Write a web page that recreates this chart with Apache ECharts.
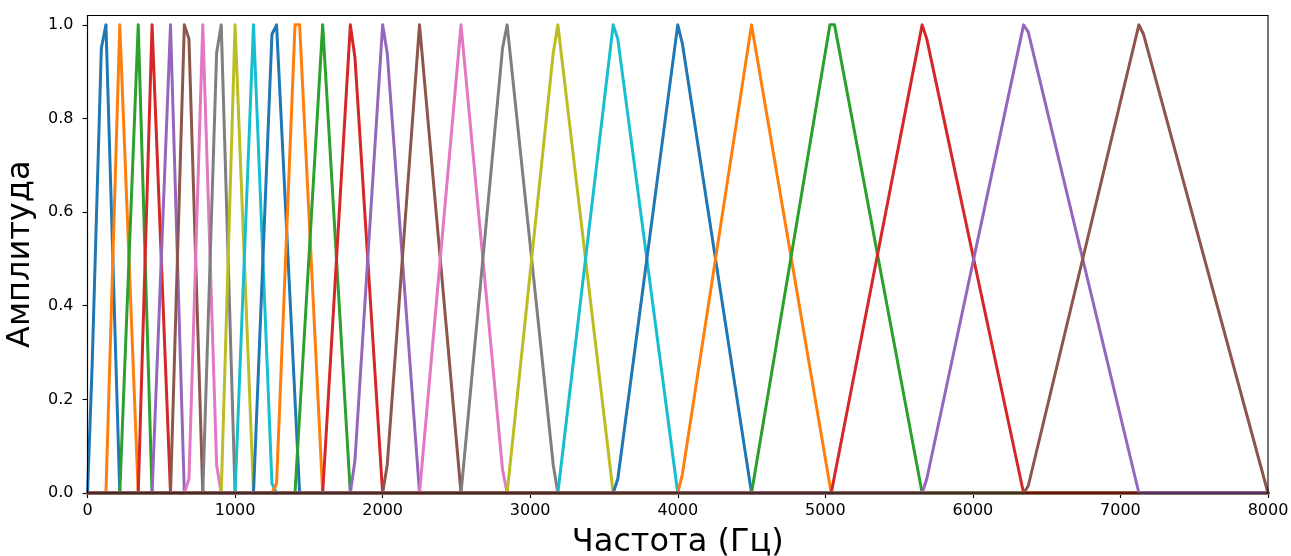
<!DOCTYPE html>
<html>
<head>
<meta charset="utf-8">
<script src="https://cdn.jsdelivr.net/npm/echarts@6/dist/echarts.min.js"></script>
<style>
html,body{margin:0;padding:0;background:#fff;}
#chart{width:1291px;height:556px;}
</style>
</head>
<body>
<div id="chart"></div>
<script>
// ---- data ----
const freqTicks = [0, 1000, 2000, 3000, 4000, 5000, 6000, 7000, 8000];
const ampTicks = [0, 0.2, 0.4, 0.6, 0.8, 1.0];

const filterStartHz = [0, 125, 218.75, 343.75, 437.5, 562.5, 656.25, 781.25, 906.25, 1000, 1125, 1250, 1406.25, 1593.75, 1781.25, 2000, 2250, 2531.25, 2843.75, 3187.5, 3562.5, 4000, 4500, 5040, 5656.25, 6343.75];
const filterPeakHz = [125, 218.75, 343.75, 437.5, 562.5, 656.25, 781.25, 906.25, 1000, 1125, 1281.25, 1406.25, 1593.75, 1781.25, 2000, 2250, 2531.25, 2843.75, 3187.5, 3562.5, 4000, 4500, 5031.25, 5656.25, 6343.75, 7125];
const filterPeakEndHz = [125, 218.75, 343.75, 437.5, 562.5, 656.25, 781.25, 906.25, 1000, 1125, 1281.25, 1437.5, 1593.75, 1781.25, 2000, 2250, 2531.25, 2843.75, 3187.5, 3562.5, 4000, 4500, 5062.5, 5656.25, 6343.75, 7125];
const filterEndHz = [218.75, 343.75, 437.5, 562.5, 656.25, 781.25, 906.25, 1000, 1125, 1281.25, 1437.5, 1593.75, 1781.25, 2000, 2250, 2531.25, 2843.75, 3187.5, 3562.5, 4000, 4500, 5040, 5656.25, 6343.75, 7125, 8000];
// [filter index, frequency Hz, amplitude] : intermediate bends seen on the triangle sides
const shapeKnees = [
  [0, 31.25, 0.27], [0, 93.75, 0.95],
  [5, 687.5, 0.97], [6, 687.5, 0.03],
  [7, 875, 0.94], [6, 875, 0.06],
  [10, 1250, 0.98], [9, 1250, 0.02], [11, 1281.25, 0.02],
  [13, 1812.5, 0.93], [14, 1812.5, 0.07],
  [14, 2031.25, 0.94], [15, 2031.25, 0.06],
  [17, 2812.5, 0.95], [16, 2812.5, 0.05],
  [18, 3156.25, 0.94], [17, 3156.25, 0.06],
  [19, 3593.75, 0.97], [20, 3593.75, 0.03],
  [20, 4031.25, 0.96], [21, 4031.25, 0.04],
  [23, 5687.5, 0.97], [24, 5687.5, 0.03],
  [24, 6375, 0.985], [25, 6375, 0.015],
  [25, 7156.25, 0.98]
];
const freqMax = 8000;
const colors = ['#1f77b4', '#ff7f0e', '#2ca02c', '#d62728', '#9467bd', '#8c564b', '#e377c2', '#7f7f7f', '#bcbd22', '#17becf'];

// ---- build series ----
const series = filterPeakHz.map(function (peak, i) {
  const pts = [];
  if (filterStartHz[i] > 0) pts.push([0, 0]);
  pts.push([filterStartHz[i], 0]);
  pts.push([peak, 1]);
  if (filterPeakEndHz[i] !== peak) pts.push([filterPeakEndHz[i], 1]);
  pts.push([filterEndHz[i], 0]);
  if (filterEndHz[i] < freqMax) pts.push([freqMax, 0]);
  shapeKnees.forEach(function (k) { if (k[0] === i) pts.push([k[1], k[2]]); });
  pts.sort(function (a, b) { return a[0] - b[0]; });
  return {
    type: 'line',
    data: pts,
    showSymbol: false,
    symbol: 'none',
    clip: true,
    animation: false,
    lineStyle: { width: 3, color: colors[i % colors.length], join: 'round', cap: 'round' },
    itemStyle: { color: colors[i % colors.length] },
    z: 2 + i * 0.001
  };
});

const chart = echarts.init(document.getElementById('chart'), null, { renderer: 'canvas' });
chart.setOption({
  animation: false,
  backgroundColor: '#ffffff',
  grid: {
    left: 87.5, right: 23, top: 15.5, bottom: 63,
    containLabel: false, outerBoundsMode: 'none',
    show: true, borderColor: '#000', borderWidth: 1.1, backgroundColor: 'transparent', z: 10
  },
  xAxis: {
    type: 'value', min: 0, max: freqMax, interval: 1000,
    name: 'Частота (Гц)', nameLocation: 'middle', nameGap: 34,
    nameTextStyle: { fontFamily: 'DejaVu Sans', fontSize: 32, color: '#000' },
    axisLine: { show: true, lineStyle: { color: '#000', width: 1.1 } },
    axisTick: { show: true, inside: false, length: 5, lineStyle: { color: '#000', width: 1.1 }, customValues: freqTicks },
    axisLabel: {
      fontFamily: 'DejaVu Sans', fontSize: 16, color: '#000', margin: 10, customValues: freqTicks,
      formatter: function (v) { return String(v); }
    },
    splitLine: { show: false }
  },
  yAxis: {
    type: 'value', min: 0, max: 1.02,
    name: 'Амплитуда', nameLocation: 'middle', nameGap: 44,
    nameTextStyle: { fontFamily: 'DejaVu Sans', fontSize: 32, color: '#000' },
    axisLine: { show: true, lineStyle: { color: '#000', width: 1.1 } },
    axisTick: { show: true, inside: false, length: 5, lineStyle: { color: '#000', width: 1.1 }, customValues: ampTicks },
    axisLabel: {
      fontFamily: 'DejaVu Sans', fontSize: 16, color: '#000', margin: 14, customValues: ampTicks,
      formatter: function (v) { return v.toFixed(1); }
    },
    splitLine: { show: false }
  },
  series: series
});
</script>
</body>
</html>
